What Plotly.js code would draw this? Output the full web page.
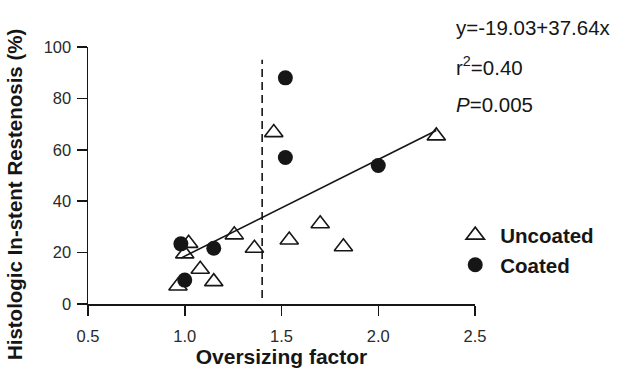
<!DOCTYPE html>
<html><head><meta charset="utf-8">
<script src="https://cdn.plot.ly/plotly-3.0.1.min.js"></script>
<style>html,body{margin:0;padding:0;background:#fff;}#chart{width:630px;height:368px;}</style>
</head><body><div id="chart"></div>
<script>
const uncoatedX = [0.965, 1.00, 1.02, 1.08, 1.15, 1.256, 1.36, 1.46, 1.54, 1.70, 1.82, 2.30];
const uncoatedY = [7.0, 19.5, 23.6, 13.5, 8.7, 26.9, 21.7, 66.7, 24.9, 31.2, 22.3, 65.4];
const coatedX = [0.98, 1.00, 1.15, 1.52, 1.52, 2.00];
const coatedY = [23.4, 9.3, 21.7, 57.0, 88.0, 53.9];
const fitIntercept = -19.03;
const fitSlope = 37.64;
const fitX = [0.98, 2.30];
const cutoffX = 1.4;
const cutoffY = [2.3, 95];
const xTicks = [0.5, 1.0, 1.5, 2.0, 2.5];
const xTickText = ['0.5', '1.0', '1.5', '2.0', '2.5'];
const yTicks = [0, 20, 40, 60, 80, 100];

const fitY = fitX.map(x => fitIntercept + fitSlope * x);
const font = 'Liberation Sans, Arial, sans-serif';
const ink = '#161616';

const traces = [
  {x: fitX, y: fitY, mode: 'lines', line: {color: ink, width: 1.6}, showlegend: false, hoverinfo: 'skip'},
  {x: [cutoffX, cutoffX], y: cutoffY, mode: 'lines', line: {color: ink, width: 1.6, dash: '8px,5px'}, showlegend: false, hoverinfo: 'skip'},
  {x: uncoatedX, y: uncoatedY, mode: 'markers', name: 'Uncoated',
   marker: {symbol: 'triangle-up-open', size: 16, color: ink, line: {width: 1.6}}},
  {x: coatedX, y: coatedY, mode: 'markers', name: 'Coated',
   marker: {symbol: 'circle', size: 15, color: ink}}
];

const layout = {
  width: 630, height: 368,
  margin: {l: 88, r: 155, t: 47, b: 64},
  paper_bgcolor: '#fff', plot_bgcolor: '#fff',
  font: {family: font, color: ink, size: 16},
  xaxis: {range: [0.5, 2.5], tickvals: xTicks, ticktext: xTickText, showgrid: false, zeroline: false,
    showline: true, linecolor: ink, linewidth: 1.5, ticks: 'outside', ticklen: 10, tickwidth: 1.5, tickcolor: ink,
    ticklabelstandoff: 7,
    tickfont: {size: 16.5, family: font, color: '#2a2a2a'},
    title: {text: '<b>Oversizing factor</b>', font: {size: 21, family: font, color: ink}, standoff: 4}},
  yaxis: {range: [0, 100], tickvals: yTicks, showgrid: false, zeroline: false,
    showline: true, linecolor: ink, linewidth: 1.5, ticks: 'outside', ticklen: 10, tickwidth: 1.5, tickcolor: ink,
    ticklabelstandoff: 2,
    tickfont: {size: 16.5, family: font, color: '#2a2a2a'}},
  showlegend: true,
  legend: {x: 0.936, y: 0.345, xanchor: 'left', yanchor: 'top', bgcolor: 'rgba(0,0,0,0)', itemwidth: 40,
    font: {size: 20.5, family: font, color: ink, weight: 'bold'}, tracegroupgap: 0, itemsizing: 'trace'},
  annotations: [
    {xref: 'paper', yref: 'paper', x: -0.191, y: 0.424, xanchor: 'center', yanchor: 'middle', showarrow: false,
     textangle: -90, text: '<b>Histologic In-stent Restenosis (%)</b>', font: {size: 20.5, family: font, color: ink}},
    {xref: 'paper', yref: 'paper', x: 0.946, y: 1.074, xanchor: 'left', yanchor: 'middle', showarrow: false,
     text: 'y=-19.03+37.64x', font: {size: 20.5, family: font, color: ink}},
    {xref: 'paper', yref: 'paper', x: 0.946, y: 0.926, xanchor: 'left', yanchor: 'middle', showarrow: false,
     text: 'r<sup>2</sup>=0.40', font: {size: 20.5, family: font, color: ink}},
    {xref: 'paper', yref: 'paper', x: 0.946, y: 0.778, xanchor: 'left', yanchor: 'middle', showarrow: false,
     text: '<i>P</i>=0.005', font: {size: 20.5, family: font, color: ink}}
  ]
};

Plotly.newPlot('chart', traces, layout, {staticPlot: true, displayModeBar: false});
</script></body></html>
